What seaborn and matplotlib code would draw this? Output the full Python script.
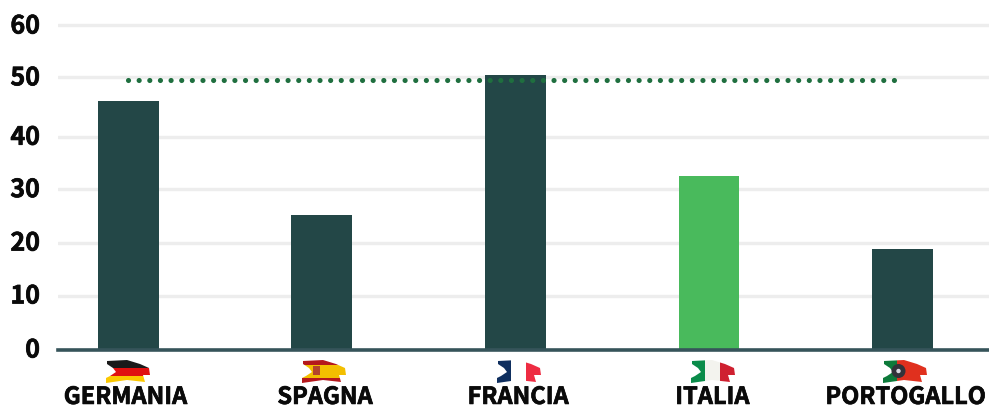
import matplotlib
matplotlib.use("Agg")
import matplotlib.pyplot as plt
from matplotlib.patches import Polygon, Rectangle, Circle
from matplotlib.transforms import ScaledTranslation
import matplotlib.patheffects as pe
import pandas as pd
import seaborn as sns

countries = ["GERMANIA", "SPAGNA", "FRANCIA", "ITALIA", "PORTOGALLO"]
values = [46.1, 24.9, 50.9, 32.1, 18.7]
bar_colors = ["#234747", "#234747", "#234747", "#49ba5c", "#234747"]
target_x = [0, 3.98]
target_y = [49.9, 49.9]
# gridlines sit unevenly in the reference, so they are read individually
grid_positions = [0, 10.0, 19.8, 29.7, 39.4, 50.4, 60]
tick_labels = ["0", "10", "20", "30", "40", "50", "60"]

sns.set_theme(style="white")
plt.rcParams["font.family"] = ["Noto Sans CJK JP", "DejaVu Sans"]

W, H = 989, 407
fig = plt.figure(figsize=(W / 100, H / 100), dpi=100, facecolor="white")
ax = fig.add_axes([58 / W, (H - 349.5) / H, 931 / W, 329.5 / H])

df = pd.DataFrame({"country": countries, "value": values})
sns.barplot(data=df, x="country", y="value", hue="country",
            palette=dict(zip(countries, bar_colors)), saturation=1,
            width=0.315, legend=False, ax=ax, zorder=3, linewidth=0)
sns.lineplot(x=target_x, y=target_y, ax=ax, color="#1f6f3f", linewidth=3.7,
             linestyle=(0, (0.01, 2.06)), dash_capstyle="round", zorder=4)

ax.set_xlim(-0.364, 4.447)
ax.set_ylim(0, 329.5 / 5.4)
ax.set_yticks(grid_positions, tick_labels)
ax.set_xlabel("")
ax.set_ylabel("")
ax.grid(axis="y", color="#ededed", linewidth=2.4, zorder=0)
ax.grid(axis="x", visible=False)
ax.set_axisbelow(True)
for name in ["top", "left", "right"]:
    ax.spines[name].set_visible(False)
ax.spines["bottom"].set_color("#36545a")
ax.spines["bottom"].set_linewidth(2.6)
ax.spines["bottom"].set_zorder(5)
ax.tick_params(axis="y", length=0, pad=13, labelsize=18, labelcolor="#0a0a0a")
ax.tick_params(axis="x", length=0, pad=25.5, labelsize=17, labelcolor="#0a0a0a")
heavier = [pe.withStroke(linewidth=0.5, foreground="#0a0a0a")]
for t in ax.get_yticklabels():
    t.set_fontweight("bold")
    t.set_path_effects(heavier)
    t.set_transform(t.get_transform() + ScaledTranslation(0, 1.5 / 100, fig.dpi_scale_trans))
label_shift_px = [-3, 3, 2.5, 3.5, 3]
for t, dx in zip(ax.get_xticklabels(), label_shift_px):
    t.set_fontweight("bold")
    t.set_path_effects(heavier)
    t.set_transform(t.get_transform() + ScaledTranslation(dx / 100, 0, fig.dpi_scale_trans))

# Painted flags under the category labels, in pixel coordinates
overlay = fig.add_axes([0, 0, 1, 1], facecolor="none")
overlay.set_xlim(0, W)
overlay.set_ylim(H, 0)
overlay.axis("off")

brush = [(1, 1), (21, 0), (34, 4), (43, 8), (44, 15), (37, 15), (39, 22), (21, 20),
         (0, 23), (0, 18), (4, 16), (10, 12), (7, 8), (1, 4)]
flag_left = dict(zip(countries, [106, 302, 497, 691, 883]))
flag_top = 360
flag_stripes = {
    "GERMANIA": [(0, 0, 44, 7.5, "#1a1a1a"), (0, 7.5, 44, 8, "#e01010"), (0, 15.5, 44, 8, "#fbc800")],
    "SPAGNA": [(0, 0, 44, 5, "#b5181c"), (0, 5, 44, 13, "#f3bf00"), (0, 18, 44, 5, "#b5181c")],
    "FRANCIA": [(0, 0, 14, 23, "#0f2f5f"), (29, 0, 15, 23, "#ee2c42")],
    "ITALIA": [(0, 0, 14, 23, "#0a8c4a"), (14, 0, 15, 23, "#f3f3ee"), (29, 0, 15, 23, "#cf2030")],
    "PORTOGALLO": [(0, 0, 14, 23, "#0d7a3a"), (14, 0, 30, 23, "#e0301e")],
}
for c in countries:
    x0 = flag_left[c]
    outline = Polygon([(x0 + px, flag_top + py) for px, py in brush], closed=True,
                      facecolor="none", edgecolor="none", transform=overlay.transData)
    overlay.add_patch(outline)
    for sx, sy, sw, sh, col in flag_stripes[c]:
        r = Rectangle((x0 + sx, flag_top + sy), sw, sh, facecolor=col, edgecolor="none")
        overlay.add_patch(r)
        r.set_clip_path(outline)

overlay.add_patch(Rectangle((flag_left["SPAGNA"] + 10.5, flag_top + 5.5), 7, 9.5,
                            facecolor="#b4452c", edgecolor="none"))
port = flag_left["PORTOGALLO"]
overlay.add_patch(Circle((port + 15.5, flag_top + 11), 7, facecolor="#33333a", edgecolor="none"))
overlay.add_patch(Circle((port + 15.5, flag_top + 11), 2.2, facecolor="#d8d8e0", edgecolor="none"))

fig.savefig("out.png", dpi=100, facecolor="white")
